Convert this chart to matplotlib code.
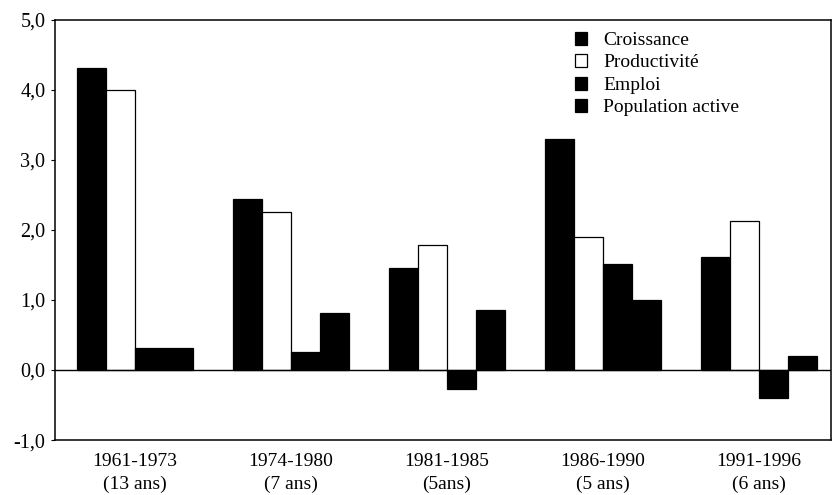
import numpy as np
from matplotlib import pyplot as plt

# Data (taux de croissance annuels moyens, %)
periodes = ["1961-1973\n(13 ans)", "1974-1980\n(7 ans)", "1981-1985\n(5ans)",
            "1986-1990\n(5 ans)", "1991-1996\n(6 ans)"]
croissance = [4.31, 2.44, 1.45, 3.30, 1.62]
productivite = [4.00, 2.26, 1.78, 1.90, 2.13]
emploi = [0.32, 0.26, -0.27, 1.51, -0.40]
population_active = [0.32, 0.82, 0.85, 1.00, 0.20]

series = [
    ("Croissance", croissance, "black"),
    ("Productivité", productivite, "white"),
    ("Emploi", emploi, "black"),
    ("Population active", population_active, "black"),
]

plt.rcParams['font.family'] = ['Liberation Serif', 'DejaVu Serif']

fig = plt.figure(figsize=(8.34, 4.95), dpi=100)
ax = fig.add_axes([0.066, 0.111, 0.930, 0.849])

x = np.arange(len(periodes))
width = 0.186
for i, (name, vals, color) in enumerate(series):
    pos = x + (i - 1.5) * width
    ax.bar(pos, vals, width, color=color, edgecolor="black",
           linewidth=0.9, label=name)

ax.axhline(0, color="black", linewidth=1.0)

ax.set_xlim(-0.513, 4.46)
ax.set_ylim(-1.0, 5.0)
ax.set_yticks(np.arange(-1, 6, 1))
ax.set_yticklabels([f"{v:.1f}".replace(".", ",") for v in np.arange(-1, 6, 1)],
                   fontsize=14.5)
ax.set_xticks(x)
ax.set_xticklabels(periodes, fontsize=14, linespacing=1.5)
ax.tick_params(axis="x", length=0, pad=9)
ax.tick_params(axis="y", length=3, width=0.8, pad=4)

for sp in ax.spines.values():
    sp.set_linewidth(1.1)

ax.legend(loc="upper left", bbox_to_anchor=(0.66, 0.99), frameon=False,
          fontsize=14, handlelength=0.65, handleheight=0.65,
          handletextpad=0.8, labelspacing=0.26, borderaxespad=0)

fig.savefig("out.png", dpi=100)
